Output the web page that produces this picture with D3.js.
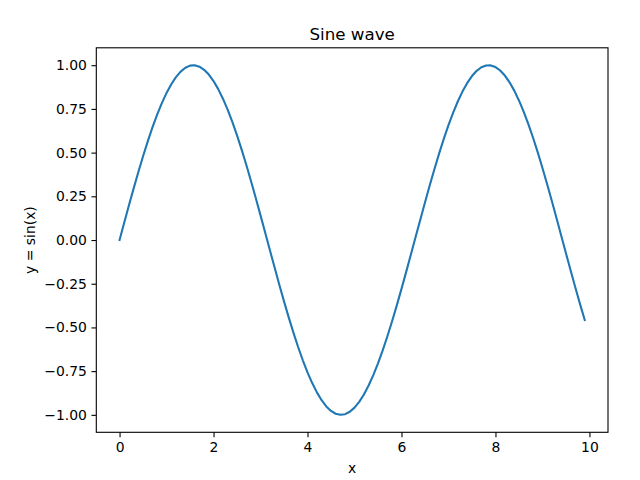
<!DOCTYPE html>
<html><head><meta charset="utf-8">
<script src="https://cdn.jsdelivr.net/npm/d3@7"></script>
<style>
body{margin:0;background:#fff;}
text{font-family:"DejaVu Sans",sans-serif;fill:#000;}
</style></head>
<body>
<svg id="c" width="640" height="480"></svg>
<script>
const xValues = [0,0.1,0.2,0.3,0.4,0.5,0.6,0.7,0.8,0.9,1.0,1.1,1.2,1.3,1.4,1.5,1.6,1.7,1.8,1.9,2.0,2.1,2.2,2.3,2.4,2.5,2.6,2.7,2.8,2.9,3.0,3.1,3.2,3.3,3.4,3.5,3.6,3.7,3.8,3.9,4.0,4.1,4.2,4.3,4.4,4.5,4.6,4.7,4.8,4.9,5.0,5.1,5.2,5.3,5.4,5.5,5.6,5.7,5.8,5.9,6.0,6.1,6.2,6.3,6.4,6.5,6.6,6.7,6.8,6.9,7.0,7.1,7.2,7.3,7.4,7.5,7.6,7.7,7.8,7.9,8.0,8.1,8.2,8.3,8.4,8.5,8.6,8.7,8.8,8.9,9.0,9.1,9.2,9.3,9.4,9.5,9.6,9.7,9.8,9.9];
const yValues = [0,0.0998,0.1987,0.2955,0.3894,0.4794,0.5646,0.6442,0.7174,0.7833,0.8415,0.8912,0.9320,0.9636,0.9854,0.9975,0.9996,0.9917,0.9738,0.9463,0.9093,0.8632,0.8085,0.7457,0.6755,0.5985,0.5155,0.4274,0.3350,0.2392,0.1411,0.0416,-0.0584,-0.1577,-0.2555,-0.3508,-0.4425,-0.5298,-0.6119,-0.6878,-0.7568,-0.8183,-0.8716,-0.9162,-0.9516,-0.9775,-0.9937,-0.9999,-0.9962,-0.9825,-0.9589,-0.9258,-0.8835,-0.8323,-0.7728,-0.7055,-0.6313,-0.5507,-0.4646,-0.3739,-0.2794,-0.1822,-0.0831,0.0168,0.1165,0.2151,0.3115,0.4048,0.4941,0.5784,0.6570,0.7290,0.7937,0.8504,0.8987,0.9380,0.9679,0.9882,0.9985,0.9989,0.9894,0.9699,0.9407,0.9022,0.8546,0.7985,0.7344,0.6630,0.5849,0.5010,0.4121,0.3191,0.2229,0.1245,0.0248,-0.0752,-0.1743,-0.2718,-0.3665,-0.4575];
const xTicks = [0,2,4,6,8,10];
const yTicks = [-1.0,-0.75,-0.5,-0.25,0,0.25,0.5,0.75,1.0];
const titleText = "Sine wave";
const xLabel = "x";
const yLabel = "y = sin(x)";

const L = 96.3, R = 608, T = 47.8, B = 432.3;
const svg = d3.select("#c");
const xMin = d3.min(xValues), xMax = d3.max(xValues), xPad = (xMax - xMin) * 0.05;
const yMin = d3.min(yValues), yMax = d3.max(yValues), yPad = (yMax - yMin) * 0.05;
const x = d3.scaleLinear().domain([xMin - xPad, xMax + xPad]).range([L, R]);
const y = d3.scaleLinear().domain([yMin - yPad, yMax + yPad]).range([B, T]);

const line = d3.line().x((d,i)=>x(xValues[i])).y(d=>y(d));
svg.append("path").datum(yValues).attr("d", line)
  .attr("fill","none").attr("stroke","#1f77b4").attr("stroke-width",2.08)
  .attr("stroke-linejoin","round").attr("stroke-linecap","square");

const xAxis = svg.append("g").attr("transform",`translate(0,${B})`)
  .call(d3.axisBottom(x).tickValues(xTicks).tickFormat(d3.format("d")).tickSize(4.86).tickPadding(4.5));
const yAxis = svg.append("g").attr("transform",`translate(${L},0)`)
  .call(d3.axisLeft(y).tickValues(yTicks).tickFormat(d3.format(".2f")).tickSize(4.86).tickPadding(4.5));
[xAxis,yAxis].forEach(a=>{
  a.select(".domain").remove();
  a.selectAll(".tick line").attr("stroke","#000").attr("stroke-width",1.1);
  a.selectAll(".tick text").attr("font-size",13.9).attr("font-family","DejaVu Sans").attr("fill","#000");
});
xAxis.selectAll(".tick text").attr("dy","0.72em");

svg.append("rect").attr("x",L).attr("y",T).attr("width",R-L).attr("height",B-T)
  .attr("fill","none").attr("stroke","#000").attr("stroke-width",1.1);

svg.append("text").attr("x",(L+R)/2).attr("y",T-8.3).attr("text-anchor","middle")
  .attr("font-size",16.7).text(titleText);
svg.append("text").attr("x",(L+R)/2).attr("y",472.5).attr("text-anchor","middle")
  .attr("font-size",13.9).text(xLabel);
svg.append("text").attr("transform",`translate(35,${(T+B)/2}) rotate(-90)`).attr("text-anchor","middle")
  .attr("font-size",13.9).text(yLabel);
</script>
</body></html>
